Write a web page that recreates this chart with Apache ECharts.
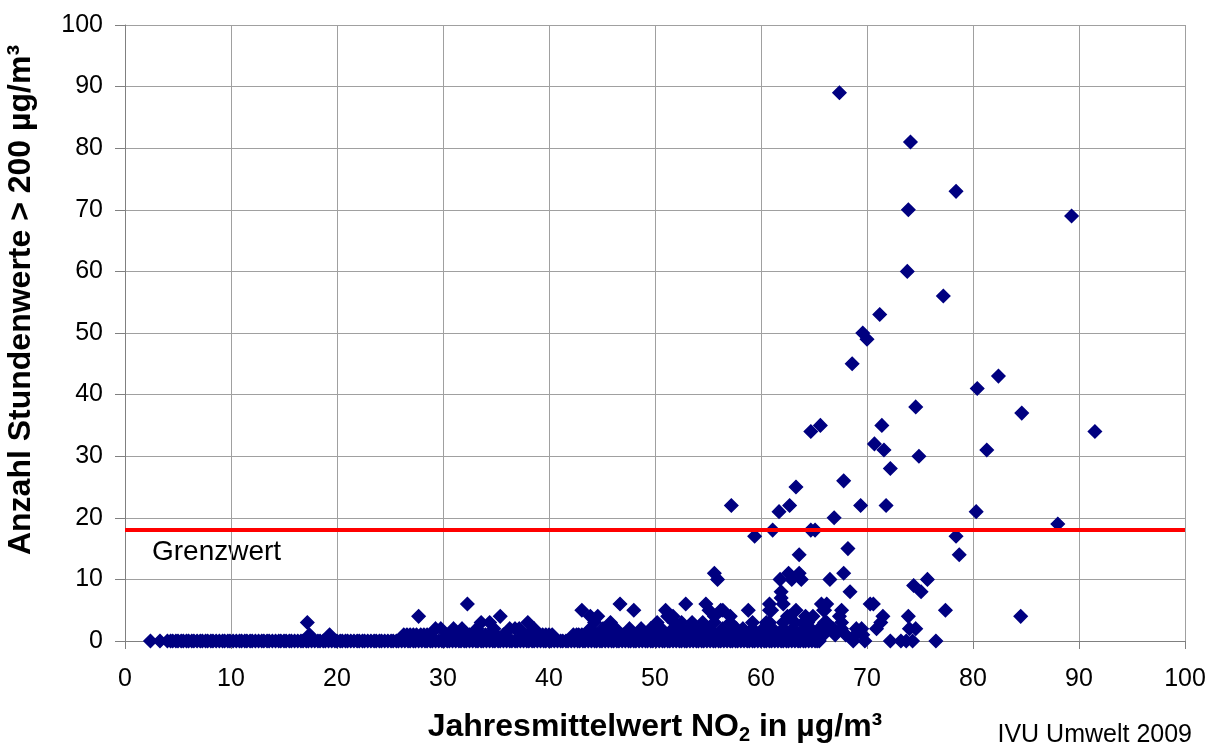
<!DOCTYPE html>
<html>
<head>
<meta charset="utf-8">
<script src="https://cdn.jsdelivr.net/npm/echarts@6/dist/echarts.min.js"></script>
<style>
  html, body { margin: 0; padding: 0; background: #fff; }
  #chart { width: 1214px; height: 747px; }
</style>
</head>
<body>
<div id="chart"></div>
<script>
// NO2 annual mean (x) of stations, grouped by number of hourly values > 200 µg/m³
// (the stations with 0 and 1 exceedances overlap into a dense band)
const zeroX = [2.4, 3.3,
  4.0, 4.3, 4.5, 4.8, 5.0, 5.3, 5.5, 5.8, 6.0, 6.3, 6.5, 6.8, 7.1, 7.3, 7.6, 7.8, 8.1, 8.3, 8.6, 8.9,
  9.2, 9.4, 9.7, 9.9, 10.2, 10.5, 10.8, 11.0, 11.3, 11.5, 11.8, 12.0, 12.3, 12.6, 12.9, 13.1, 13.4, 13.6,
  13.9, 14.2, 14.5, 14.7, 15.0, 15.2, 15.5, 15.7, 16.0, 16.3, 16.6, 16.8, 17.1, 17.3, 17.6, 17.9, 18.2,
  18.4, 18.7, 18.9, 19.2, 19.5, 19.8, 20.0, 20.3, 20.5, 20.8, 21.0, 21.3, 21.6, 21.9, 22.1, 22.4, 22.6,
  22.9, 23.2, 23.5, 23.7, 24.0, 24.2, 24.5, 24.8, 25.1, 25.3, 25.6, 25.8, 26.1, 26.4, 26.7, 26.9, 27.2,
  27.4, 27.7, 28.0, 28.3, 28.5, 28.8, 29.0, 29.3, 29.6, 29.9, 30.1, 30.4, 30.6, 30.9, 31.2, 31.5, 31.7,
  32.0, 32.2, 32.5, 32.8, 33.1, 33.3, 33.6, 33.8, 34.1, 34.4, 34.7, 34.9, 35.2, 35.4, 35.7, 36.0, 36.3,
  36.5, 36.8, 37.0, 37.3, 37.6, 37.9, 38.1, 38.4, 38.6, 38.9, 39.2, 39.5, 39.7, 40.0, 40.2, 40.5, 40.8,
  41.1, 41.3, 41.6, 41.8, 42.1, 42.4, 42.7, 42.9, 43.2, 43.4, 43.7, 44.0, 44.3, 44.5, 44.8, 45.0, 45.3,
  45.6, 45.9, 46.1, 46.4, 46.6, 46.9, 47.2, 47.5, 47.7, 48.0, 48.2, 48.5, 48.8, 49.1, 49.3, 49.6, 49.8,
  50.1, 50.4, 50.7, 50.9, 51.2, 51.4, 51.7, 52.0, 52.3, 52.5, 52.8, 53.0, 53.3, 53.6, 53.9, 54.1, 54.4,
  54.6, 54.9, 55.2, 55.5, 55.7, 56.0, 56.2, 56.5, 56.8, 57.1, 57.3, 57.6, 57.8, 58.1, 58.4, 58.7, 58.9,
  59.2, 59.4, 59.7, 60.0, 60.3, 60.5, 60.8, 61.0, 61.3, 61.6, 61.9, 62.1, 62.4, 62.6, 62.9, 63.2, 63.5,
  63.7, 64.0, 64.2, 64.5, 64.8, 65.1, 65.3, 65.5,
  68.7, 69.8, 72.2, 73.2, 73.7, 74.3, 76.5];
const oneX = [17.4, 19.3, 26.3, 26.6, 26.9, 27.2, 27.5, 27.9, 28.2, 28.5, 28.8, 30.5, 31.1, 31.5, 32.0,
  32.5, 33.1, 33.5, 34.0, 34.5, 35.0, 35.7, 37.6, 38.0, 38.4, 38.8, 39.1, 39.4, 39.7, 40.0, 40.3,
  42.3, 42.6, 42.8, 43.1, 43.4, 43.7, 44.0, 44.3, 44.6, 44.9, 45.2, 45.5, 45.8, 46.1, 46.4, 46.7, 47.0,
  47.3, 47.6, 47.9, 48.2, 48.5, 48.8, 49.1, 49.4, 49.7, 50.0, 50.3, 50.6, 50.9, 51.2, 51.5, 51.8, 52.1,
  52.4, 52.7, 53.0, 53.3, 53.6, 53.9, 54.2, 54.5, 54.8, 55.1, 55.4, 55.7, 56.0, 56.3, 56.6, 56.9, 57.2,
  57.5, 57.8, 58.1, 58.4, 58.7, 59.0, 59.3, 59.6, 59.9, 60.2, 60.5, 60.8, 61.1, 61.4, 61.7, 62.0, 62.3,
  62.6, 62.9, 63.2, 63.5, 63.8, 64.1, 64.4, 64.7, 65.0, 65.9, 67.0, 68.0, 68.9, 69.6];
const twoX = [29.3, 29.8, 31.0, 31.8, 33.2, 34.8, 36.3, 36.8, 37.2, 38.6, 43.9, 45.1, 45.7, 46.3, 47.6,
  48.7, 49.6, 50.6, 51.7, 52.5, 53.2, 53.6, 54.2, 55.1, 56.4, 57.7, 58.3, 59.2, 60.2, 61.1, 62.1, 63.0,
  64.0, 64.7, 65.5, 66.3, 66.8, 67.6, 69.0, 69.5, 70.9, 74.0, 74.6];
const threeX = [17.2, 33.6, 34.4, 38.0, 44.3, 45.8, 50.2, 51.8, 52.5, 53.5, 54.5, 55.6, 57.1, 59.2, 60.5,
  60.8, 62.1, 63.2, 64.0, 64.4, 66.0, 66.2, 67.6, 71.3];
const fourX = [27.7, 35.4, 43.9, 44.6, 51.2, 51.7, 55.6, 57.1, 62.5, 62.7, 64.2, 64.9, 67.4, 71.5, 73.9, 84.5];
const fiveX = [43.1, 48.0, 51.0, 55.1, 56.2, 56.4, 58.8, 60.8, 61.0, 63.3, 65.9, 66.0, 67.6, 77.4];
const sixX = [32.3, 46.7, 52.9, 54.8, 60.8, 62.1, 65.7, 66.2, 70.3, 70.6];
// [annual mean, count] for stations with 7 or more exceedances
const highPoints = [
  [61.9, 7], [61.9, 8], [68.4, 8], [75.1, 8], [74.4, 9],
  [55.9, 10], [61.8, 10], [62.9, 10], [63.8, 10], [66.5, 10], [75.7, 10],
  [55.6, 11], [62.6, 11], [63.6, 11], [67.8, 11],
  [63.6, 14], [78.7, 14], [68.2, 15], [59.4, 17], [78.4, 17],
  [61.1, 18], [64.7, 18], [65.1, 18], [88.0, 19], [66.9, 20], [61.7, 21], [80.3, 21],
  [57.2, 22], [62.7, 22], [69.4, 22], [71.8, 22], [63.3, 25], [67.8, 26], [72.2, 28],
  [74.9, 30], [71.6, 31], [81.3, 31], [70.7, 32], [64.7, 34], [91.5, 34], [65.6, 35], [71.4, 35],
  [84.6, 37], [74.6, 38], [80.4, 41], [82.4, 43], [68.6, 45], [70.0, 49], [69.6, 50], [71.2, 53],
  [77.2, 56], [73.8, 60], [89.3, 69], [73.9, 70], [78.4, 73], [74.1, 81], [67.4, 89]
];
const limitValue = 18;
const axisTicks = [0, 100, 10];

const pointData = [
  ...zeroX.map((x) => [x, 0]),
  ...oneX.map((x) => [x, 1]),
  ...twoX.map((x) => [x, 2]),
  ...threeX.map((x) => [x, 3]),
  ...fourX.map((x) => [x, 4]),
  ...fiveX.map((x) => [x, 5]),
  ...sixX.map((x) => [x, 6]),
  ...highPoints,
];

const font = '"Liberation Sans", Arial, sans-serif';
const chart = echarts.init(document.getElementById("chart"));

const axisCommon = {
  type: "value",
  min: axisTicks[0],
  max: axisTicks[1],
  interval: axisTicks[2],
  axisLine: { show: true, lineStyle: { color: "#808080", width: 1 } },
  axisTick: { show: true, inside: false, lineStyle: { color: "#808080" } },
  splitLine: { show: true, lineStyle: { color: "#a0a0a0", width: 1 } },
  axisLabel: { color: "#000", fontSize: 25, fontFamily: font },
};

const option = {
  animation: false,
  backgroundColor: "#fff",
  grid: { left: 125, right: 29, top: 25, bottom: 106 },
  xAxis: {
    ...axisCommon,
    axisTick: { ...axisCommon.axisTick, length: 8 },
    axisLabel: { ...axisCommon.axisLabel, margin: 26 },
  },
  yAxis: {
    ...axisCommon,
    axisTick: { ...axisCommon.axisTick, length: 10 },
    axisLabel: { ...axisCommon.axisLabel, margin: 22 },
  },
  series: [
    {
      type: "scatter",
      symbol: "diamond",
      symbolSize: 13,
      large: false,
      itemStyle: { color: "#000080", borderColor: "#000080", borderWidth: 1.5, opacity: 1 },
      data: pointData,
      markLine: {
        silent: true,
        symbol: ["none", "none"],
        label: { show: false },
        lineStyle: { color: "#ff0000", width: 4, type: "solid" },
        data: [{ yAxis: limitValue }],
      },
    },
  ],
  graphic: [
    {
      type: "text",
      x: 21,
      y: 300,
      rotation: Math.PI / 2,
      style: {
        text: "Anzahl Stundenwerte > 200 µg/m³",
        fontSize: 32,
        fontWeight: "bold",
        fontFamily: font,
        fill: "#000",
        align: "center",
        verticalAlign: "middle",
      },
    },
    {
      type: "text",
      x: 655,
      y: 727,
      style: {
        text: "{t|Jahresmittelwert NO}{s|2}{t| in µg/m³}",
        fill: "#000",
        align: "center",
        verticalAlign: "middle",
        rich: {
          t: { fontSize: 32, fontWeight: "bold", fontFamily: font, lineHeight: 36 },
          s: { fontSize: 20, fontWeight: "bold", fontFamily: font, lineHeight: 14, verticalAlign: "bottom" },
        },
      },
    },
    {
      type: "text",
      x: 152,
      y: 552,
      style: {
        text: "Grenzwert",
        fontSize: 28,
        fontFamily: font,
        fill: "#000",
        align: "left",
        verticalAlign: "middle",
      },
    },
    {
      type: "text",
      x: 1192,
      y: 735,
      style: {
        text: "IVU Umwelt 2009",
        fontSize: 25,
        fontFamily: font,
        fill: "#000",
        align: "right",
        verticalAlign: "middle",
      },
    },
  ],
};

chart.setOption(option);
</script>
</body>
</html>
